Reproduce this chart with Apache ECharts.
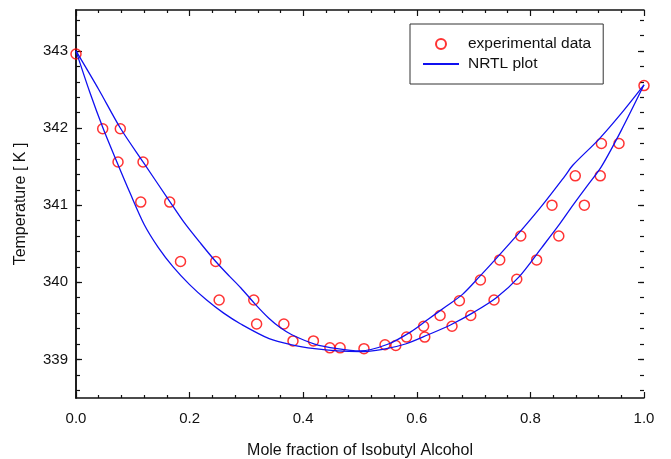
<!DOCTYPE html>
<html>
<head>
<meta charset="utf-8">
<title>NRTL plot</title>
<script src="https://cdn.jsdelivr.net/npm/echarts@6/dist/echarts.min.js"></script>
<style>
    html, body { margin: 0; padding: 0; background: #fff; }
    #chart { width: 671px; height: 459px; }
</style>
</head>
<body>
<div id="chart"></div>
<script>
// experimental points (mole fraction, temperature K)
var expX = [0.000, 0.047, 0.074, 0.078, 0.114, 0.118, 0.165, 0.184, 0.246, 0.252, 0.313, 0.318, 0.366, 0.382,
    0.418, 0.447, 0.465, 0.507, 0.544, 0.563, 0.582, 0.612, 0.614, 0.641, 0.662, 0.675, 0.695, 0.712, 0.736,
    0.746, 0.776, 0.783, 0.811, 0.838, 0.850, 0.879, 0.895, 0.923, 0.925, 0.956, 1.000];
var expT = [342.96, 341.99, 341.56, 341.99, 341.04, 341.56, 341.04, 340.27, 340.27, 339.77, 339.77, 339.46, 339.46, 339.24,
    339.24, 339.15, 339.15, 339.14, 339.19, 339.18, 339.29, 339.43, 339.29, 339.57, 339.43, 339.76, 339.57, 340.03, 339.77,
    340.29, 340.04, 340.60, 340.29, 341.00, 340.60, 341.38, 341.00, 341.38, 341.80, 341.80, 342.55];

// NRTL bubble curve (lower)
var bubbleX = [0, 0.024, 0.048, 0.072, 0.095, 0.12, 0.145, 0.171, 0.2, 0.23, 0.26, 0.29, 0.34, 0.38, 0.42, 0.46, 0.5,
    0.54, 0.58, 0.62, 0.66, 0.7, 0.74, 0.78, 0.82, 0.85, 0.875, 0.9, 0.925, 0.96, 1.0];
var bubbleT = [343.0, 342.47, 341.99, 341.56, 341.16, 340.75, 340.45, 340.2, 339.97, 339.77, 339.6, 339.46, 339.27, 339.19, 339.14, 339.11, 339.1,
    339.13, 339.2, 339.32, 339.45, 339.61, 339.8, 340.07, 340.45, 340.74, 341.0, 341.25, 341.5, 341.97, 342.56];

// NRTL dew curve (upper)
var dewX = [0, 0.04, 0.078, 0.118, 0.164, 0.19, 0.22, 0.246, 0.27, 0.29, 0.315, 0.34, 0.36, 0.38, 0.42, 0.46, 0.5,
    0.55, 0.59, 0.62, 0.65, 0.68, 0.71, 0.74, 0.78, 0.82, 0.86, 0.875, 0.92, 0.96, 1.0];
var dewT = [343.0, 342.5, 342.0, 341.56, 341.06, 340.78, 340.5, 340.27, 340.08, 339.93, 339.72, 339.53, 339.41, 339.32, 339.2, 339.14, 339.11,
    339.2, 339.36, 339.52, 339.68, 339.84, 340.07, 340.31, 340.64, 340.99, 341.37, 341.52, 341.85, 342.19, 342.56];

var _pairs = function (xs, ys) {
    var out = [];
    for (var i = 0; i < xs.length; i++) {
        out.push([xs[i], ys[i]]);
    }
    return out;
};

var font = 'Liberation Sans, Arial, sans-serif';
var ink = '#111';
var blue = '#1010f0';

// main frame (data), plus two helper grids that only carry the y ticks
var gridMain = { left: 76, right: 27, top: 10, bottom: 61, outerBoundsMode: 'none' };
var gridMajor = { left: 76, right: 27, top: 51, bottom: 99.6, outerBoundsMode: 'none' };
var gridMinor = { left: 76, right: 27, top: 20.16, bottom: 68.76, outerBoundsMode: 'none' };

var xCommon = {
    type: 'value', min: 0, max: 1, interval: 0.2,
    axisLine: { onZero: false, lineStyle: { color: ink, width: 1.5 } },
    axisTick: { inside: true, length: 6, lineStyle: { color: ink, width: 1.2 } },
    minorTick: { show: true, splitNumber: 5, length: 3, lineStyle: { color: ink, width: 1.2 } },
    splitLine: { show: false }
};

var tickY = function (grid, pos, min, max, interval, len, showLabel) {
    return {
        type: 'value', gridIndex: grid, position: pos, min: min, max: max, interval: interval,
        axisLine: { show: false },
        axisTick: { inside: true, length: len, lineStyle: { color: ink, width: 1.2 } },
        axisLabel: {
            show: showLabel, color: ink, fontSize: 15, fontFamily: font, margin: 8,
            formatter: function (v) { return Math.round(v).toString(); }
        },
        splitLine: { show: false }
    };
};

var curve = function (xs, ys) {
    return {
        name: 'NRTL plot', type: 'line', xAxisIndex: 0, yAxisIndex: 0,
        data: _pairs(xs, ys),
        symbol: 'none', showSymbol: false,
        smooth: 0.3,
        lineStyle: { color: blue, width: 1.3 },
        itemStyle: { color: blue }
    };
};

var myChart = echarts.init(document.getElementById('chart'), null, { renderer: 'canvas' });

var option = {
    animation: false,
    backgroundColor: '#fff',
    grid: [gridMain, gridMajor, gridMinor],
    legend: {
        data: [
            { name: 'experimental data' },
            { name: 'NRTL plot', itemStyle: { opacity: 0 } }
        ],
        orient: 'vertical',
        left: 410,
        top: 24,
        padding: [12, 12, 12, 12],
        itemGap: 4,
        itemWidth: 36,
        itemHeight: 10,
        borderColor: '#333',
        borderWidth: 1,
        textStyle: { color: ink, fontSize: 15.5, fontFamily: font, lineHeight: 16, padding: [0, 0, 0, 4] }
    },
    xAxis: [
        Object.assign({}, xCommon, {
            gridIndex: 0, position: 'bottom',
            name: 'Mole fraction of Isobutyl Alcohol',
            nameLocation: 'middle', nameGap: 45,
            nameTextStyle: { color: ink, fontSize: 16, fontFamily: font },
            axisLabel: {
                color: ink, fontSize: 15, fontFamily: font, margin: 13,
                formatter: function (v) { return v.toFixed(1); }
            }
        }),
        Object.assign({}, xCommon, { gridIndex: 0, position: 'top', axisLabel: { show: false } }),
        { type: 'value', gridIndex: 1, show: false, min: 0, max: 1 },
        { type: 'value', gridIndex: 2, show: false, min: 0, max: 1 }
    ],
    yAxis: [
        {
            type: 'value', gridIndex: 0, position: 'left', min: 338.5, max: 343.53,
            name: 'Temperature [ K ]', nameLocation: 'middle', nameGap: 47,
            nameTextStyle: { color: ink, fontSize: 16, fontFamily: font },
            axisLine: { show: true, lineStyle: { color: ink, width: 1.5 } },
            axisTick: { show: false }, axisLabel: { show: false }, splitLine: { show: false }
        },
        {
            type: 'value', gridIndex: 0, position: 'right', min: 338.5, max: 343.53,
            axisLine: { show: true, lineStyle: { color: ink, width: 1.5 } },
            axisTick: { show: false }, axisLabel: { show: false }, splitLine: { show: false }
        },
        tickY(1, 'left', 339, 343, 1, 6, true),
        tickY(1, 'right', 339, 343, 1, 6, false),
        tickY(2, 'left', 338.6, 343.4, 0.2, 4, false),
        tickY(2, 'right', 338.6, 343.4, 0.2, 4, false)
    ],
    series: [
        curve(bubbleX, bubbleT),
        curve(dewX, dewT),
        {
            name: 'experimental data', type: 'scatter', xAxisIndex: 0, yAxisIndex: 0,
            data: _pairs(expX, expT),
            symbol: 'circle', symbolSize: 10,
            itemStyle: { color: 'rgba(255,255,255,0)', borderColor: '#ff0000', borderWidth: 1.5 }
        }
    ]
};

myChart.setOption(option);
</script>
</body>
</html>
